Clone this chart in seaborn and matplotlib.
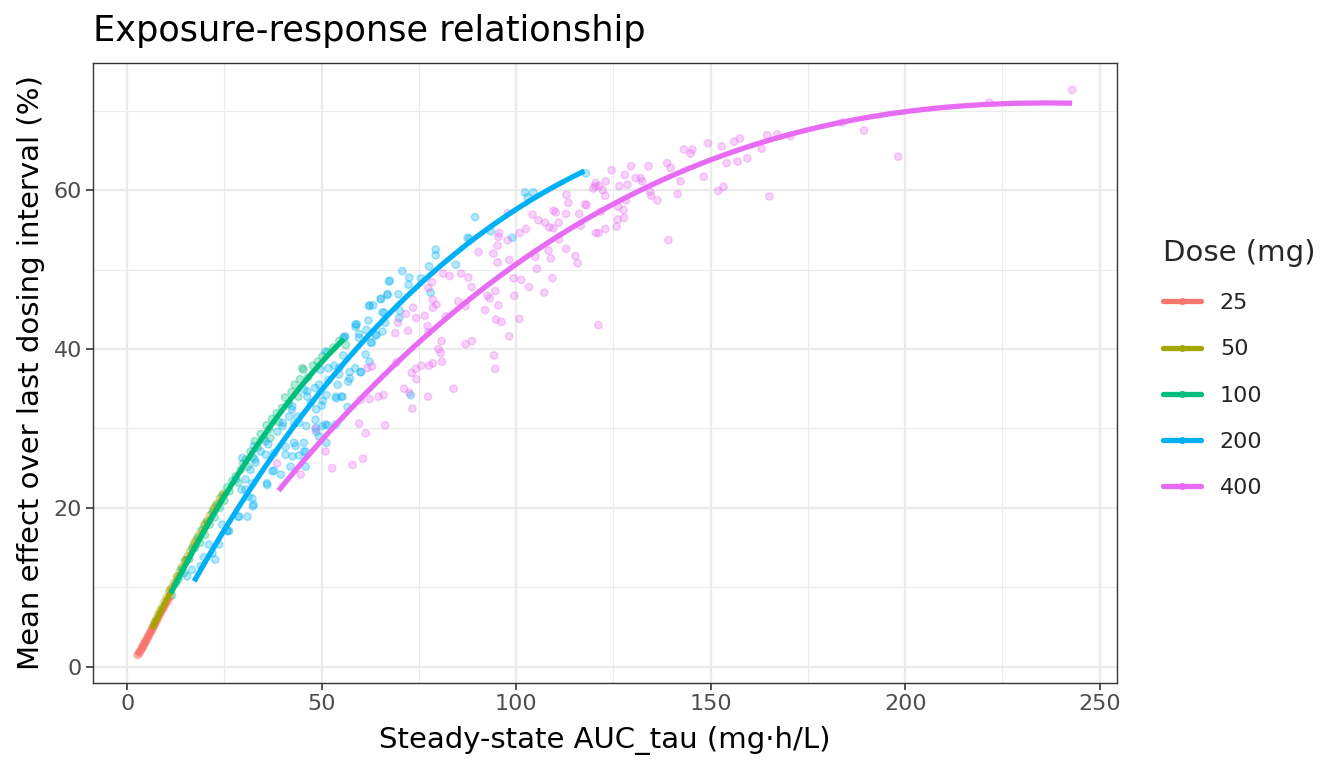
import seaborn as sns
import pandas as pd
import numpy as np
import matplotlib.pyplot as plt
from matplotlib.lines import Line2D
from matplotlib.ticker import MultipleLocator

auc_25 = [2.6, 2.9, 3.1, 3.3, 3.5, 3.7, 3.9, 4.1, 4.3, 4.5, 4.7, 4.9, 5.1, 5.3, 5.5, 5.8, 6.0,
          6.3, 6.6, 6.9, 7.2, 7.6, 8.0, 8.4, 8.9, 9.4, 9.9, 10.5, 11.0, 4.0, 4.6, 5.6, 6.2, 7.0]
eff_25 = [1.5, 1.6, 1.9, 1.8, 2.1, 2.3, 2.4, 2.7, 2.8, 3.0, 3.2, 3.3, 3.6, 3.7, 3.9, 4.2, 4.4,
          4.6, 4.9, 5.2, 5.5, 5.8, 6.2, 6.6, 7.0, 7.4, 7.9, 8.3, 8.8, 2.5, 3.1, 4.0, 4.5, 5.3]

auc_50 = [6.5, 7.0, 7.5, 8.0, 8.5, 9.0, 9.6, 10.2, 10.8, 11.5, 12.1, 12.8, 13.5, 14.1, 14.8,
          15.5, 16.2, 16.9, 17.6, 18.3, 19.0, 19.8, 20.5, 21.3, 22.1, 23.0, 23.8, 24.7, 11.0,
          13.0, 15.0, 17.3, 20.0, 22.5]
eff_50 = [5.0, 5.6, 6.0, 6.6, 7.1, 7.5, 8.2, 8.7, 9.4, 10.0, 10.6, 11.3, 12.0, 12.6, 13.3,
          13.9, 14.6, 15.2, 15.9, 16.5, 17.1, 17.8, 18.4, 19.1, 19.8, 20.5, 21.2, 21.8, 9.7,
          11.4, 13.5, 15.6, 18.0, 20.1]

auc_100 = [11.5, 12.5, 13.2, 14.0, 14.6, 15.3, 16.0, 16.8, 17.5, 18.1, 18.7, 19.4, 20.0, 20.6,
           21.2, 21.9, 22.5, 23.1, 23.8, 24.4, 25.0, 25.7, 26.3, 27.0, 27.9, 28.5, 29.2, 29.8,
           30.5, 31.0, 31.7, 32.3, 32.8, 33.5, 34.3, 35.0, 35.8, 36.5, 37.2, 38.4, 39.0, 39.8,
           40.6, 41.5, 42.3, 43.0, 44.4, 45.0, 45.3, 46.5, 47.8, 49.0, 50.2, 51.5, 53.0, 54.5,
           55.5, 56.2, 44.0, 36.8]
eff_100 = [9.0, 10.5, 11.0, 12.3, 11.8, 13.4, 13.6, 14.9, 15.0, 16.2, 15.6, 17.3, 16.6, 18.2,
           17.9, 19.4, 18.8, 20.3, 20.0, 21.5, 20.9, 22.6, 22.1, 23.4, 24.0, 23.2, 24.8, 25.6,
           26.1, 25.2, 27.1, 26.4, 28.4, 27.6, 29.3, 28.7, 30.4, 29.9, 31.2, 31.9, 30.8, 32.6,
           33.9, 33.1, 34.6, 35.5, 36.2, 37.6, 37.4, 36.4, 37.9, 38.4, 39.1, 39.6, 40.2, 41.0,
           41.4, 40.5, 34.0, 28.8]

auc_200 = [102.3, 104.4, 102.9, 89.4, 87.5, 99.0, 79.3, 79.3, 77.6, 70.7, 72.5, 72.3, 75.5, 67.5,
           78.0, 69.7, 66.9, 65.2, 62.3, 63.2, 70.1, 66.0, 69.9, 66.3, 62.0, 59.0, 58.7, 61.5,
           65.6, 59.6, 63.9, 62.9, 56.0, 50.9, 55.5, 61.3, 62.3, 58.6, 60.1, 57.2, 54.5, 53.2,
           51.7, 49.7, 54.5, 56.8, 54.1, 51.7, 49.3, 48.3, 46.3, 45.4, 50.3, 53.8, 55.1, 56.6,
           50.0, 48.6, 42.3, 43.7, 39.9, 46.0, 48.5, 51.5, 48.6, 42.9, 40.7, 42.9, 44.2, 42.5,
           45.9, 42.0, 51.2, 72.9, 117.9, 67.3, 62.2, 65.2, 66.9, 65.6, 58.7, 64.1, 62.6, 59.6,
           55.9, 60.0, 57.2, 53.6, 55.3, 51.2, 51.0, 49.3, 45.9, 43.3, 39.5, 37.3, 36.0, 47.2,
           46.3, 42.4, 41.6, 40.0, 44.2, 38.6, 36.3, 37.7, 34.3, 35.6, 32.8, 31.7, 32.2, 30.4,
           29.4, 32.3, 30.9, 28.7, 26.2, 24.4, 22.6, 21.0, 18.9, 25.9, 28.6, 35.9, 32.5, 31.2,
           15.4, 16.6, 25.7, 23.6, 21.9, 37.7, 33.0, 35.6, 40.7, 45.4, 45.4, 50.2, 53.6, 48.4,
           32.6, 29.6, 27.9, 30.4, 32.2, 19.7, 88.0, 93.5, 84.5]
eff_200 = [59.7, 59.7, 59.1, 56.6, 54.0, 54.0, 52.5, 51.8, 50.4, 49.8, 49.0, 48.1, 48.9, 48.6,
           47.1, 46.9, 46.9, 46.3, 45.5, 45.5, 44.8, 44.6, 43.9, 43.3, 43.6, 43.1, 42.8, 42.4,
           42.2, 41.9, 41.7, 40.8, 41.5, 39.7, 39.2, 39.3, 38.4, 37.6, 37.1, 37.1, 37.6, 37.9,
           37.6, 37.4, 36.8, 35.9, 35.5, 36.1, 35.5, 35.1, 34.0, 34.9, 33.5, 33.8, 34.0, 32.7,
           32.9, 32.4, 32.4, 31.5, 30.3, 30.3, 30.1, 30.4, 29.6, 30.6, 27.7, 28.2, 26.6, 26.5,
           25.2, 25.2, 28.2, 34.2, 62.1, 48.5, 45.4, 46.3, 46.8, 44.6, 43.1, 41.8, 40.8, 41.4,
           41.6, 37.1, 36.3, 34.0, 34.0, 34.2, 30.5, 29.0, 27.1, 27.8, 24.2, 24.6, 22.9, 33.2,
           34.7, 32.8, 31.5, 30.7, 30.7, 29.6, 28.0, 26.9, 27.1, 28.4, 26.1, 24.8, 23.1, 23.6,
           22.3, 20.2, 18.9, 18.9, 17.1, 17.9, 13.5, 15.4, 12.7, 17.1, 18.9, 23.1, 20.4, 21.4,
           11.4, 12.2, 17.1, 15.4, 14.3, 24.7, 25.7, 26.7, 26.7, 27.1, 28.2, 30.3, 30.5, 31.1,
           27.8, 26.3, 23.6, 22.3, 21.2, 13.8, 53.9, 54.8, 50.6]

auc_400 = [38.5, 44.6, 48.4, 51.0, 52.7, 57.9, 60.6, 59.6, 61.3, 66.3, 60.0, 62.3, 64.6, 65.9,
           61.7, 62.9, 69.2, 71.2, 72.5, 73.3, 77.3, 83.9, 73.1, 74.2, 74.3, 75.6, 77.6, 78.6,
           80.9, 80.0, 80.6, 80.8, 87.0, 88.6, 94.3, 94.6, 98.2, 100.8, 68.9, 72.2, 74.3, 73.5,
           76.5, 77.2, 77.4, 78.6, 79.5, 81.9, 71.6, 69.6, 85.1, 87.0, 92.0, 94.8, 95.4, 96.2,
           94.6, 92.6, 93.2, 88.5, 85.8, 87.7, 81.2, 82.9, 78.3, 77.4, 78.5, 90.3, 94.1, 95.2,
           98.2, 99.3, 99.5, 101.3, 103.3, 107.2, 109.3, 105.3, 104.9, 108.3, 108.9, 112.8,
           115.8, 115.2, 95.2, 97.8, 95.4, 95.6, 97.8, 100.9, 102.5, 104.2, 105.7, 107.4, 109.6,
           110.2, 110.9, 108.5, 109.5, 111.0, 112.9, 113.4, 112.8, 116.2, 116.6, 117.7, 119.8,
           120.5, 120.3, 121.1, 121.2, 118.1, 121.8, 122.9, 125.8, 126.1, 127.6, 127.7, 126.2,
           128.2, 120.4, 121.3, 122.2, 123.0, 122.9, 124.5, 126.5, 127.9, 128.6, 129.5, 130.7,
           132.0, 132.4, 134.0, 134.4, 134.7, 136.3, 139.1, 138.8, 139.7, 141.5, 142.2, 143.1,
           144.8, 145.3, 148.2, 149.3, 151.9, 153.3, 152.8, 154.1, 156.0, 156.9, 157.5, 159.4,
           163.1, 164.5, 165.1, 167.1, 170.5, 183.7, 189.4, 198.2, 221.6, 242.9]
eff_400 = [25.6, 24.2, 29.9, 27.1, 25.0, 25.4, 26.2, 30.6, 29.4, 30.4, 33.6, 33.7, 34.0, 34.2,
           37.6, 37.8, 38.3, 35.0, 34.5, 32.5, 34.0, 35.0, 37.0, 37.5, 36.2, 37.9, 37.9, 38.2,
           38.4, 40.0, 39.5, 41.0, 40.6, 41.0, 39.2, 37.5, 41.6, 43.8, 42.0, 42.3, 43.9, 45.2,
           44.2, 42.9, 42.1, 45.2, 45.6, 44.1, 44.4, 43.3, 46.0, 45.4, 44.9, 43.7, 45.5, 43.4,
           47.3, 46.7, 46.4, 47.8, 49.5, 49.0, 49.5, 49.2, 48.4, 47.7, 46.2, 52.2, 52.0, 50.9,
           51.2, 48.9, 46.7, 48.7, 47.8, 47.1, 48.9, 50.1, 51.6, 52.4, 51.4, 52.6,
           50.8, 51.7, 53.0, 53.7, 54.1, 54.6, 57.1, 54.6, 55.1, 56.9, 56.2, 55.9, 57.4,
           57.2, 55.9, 55.3, 55.2, 53.8, 59.4, 58.4, 57.0, 57.0, 55.5, 58.2, 60.2,
           54.6, 60.5, 43.0, 54.6, 58.1, 57.3, 55.1, 55.4, 56.3, 57.5, 56.5, 57.9,
           58.7, 60.9, 60.5, 60.0, 61.1, 59.3, 62.5, 60.5, 61.9, 60.7, 63.0, 61.5,
           61.5, 61.1, 63.0, 59.8, 59.3, 58.7, 53.7, 63.4, 62.8, 59.5, 61.1, 65.1,
           64.6, 65.1, 61.7, 65.9, 59.9, 60.4, 65.5, 63.4, 66.1, 63.6, 66.5, 64.0,
           65.2, 66.9, 59.2, 67.0, 66.8, 68.5, 67.5, 64.2, 71.0, 72.6]

# smooth curve nodes per dose
fit_auc_25 = [2.6, 5.0, 7.5, 11.0]
fit_eff_25 = [1.5, 3.4, 5.7, 8.8]
fit_auc_50 = [6.4, 11.2, 16.0, 20.5, 25.3]
fit_eff_50 = [4.9, 9.3, 13.9, 18.0, 21.9]
fit_auc_100 = [11.2, 18.0, 25.3, 32.0, 39.0, 45.0, 50.0, 55.7]
fit_eff_100 = [9.3, 15.3, 21.9, 27.0, 31.6, 35.4, 38.4, 41.3]
fit_auc_200 = [17.2, 24.0, 31.3, 39.0, 47.6, 53.5, 59.6, 68.2, 76.7, 85.3, 93.9, 102.5, 111.0, 117.5]
fit_eff_200 = [10.6, 16.6, 22.3, 27.6, 33.2, 37.1, 40.5, 44.7, 48.7, 52.3, 55.6, 58.6, 60.9, 62.2]
fit_auc_400 = [38.9, 56.2, 70.7, 85.3, 102.5, 121.3, 142.8, 169.5, 196.2, 222.9, 242.9]
fit_eff_400 = [22.6, 31.5, 38.7, 44.7, 51.7, 57.7, 63.0, 66.5, 69.3, 70.8, 71.1]

doses = ['25', '50', '100', '200', '400']
colors = ['#F8766D', '#A3A500', '#00BF7D', '#00B0F6', '#E76BF3']
pal = dict(zip(doses, colors))

pts = pd.concat([
    pd.DataFrame({'auc': a, 'eff': e, 'dose': d})
    for a, e, d in [(auc_25, eff_25, '25'), (auc_50, eff_50, '50'), (auc_100, eff_100, '100'),
                    (auc_200, eff_200, '200'), (auc_400, eff_400, '400')]
])
fits = [(fit_auc_25, fit_eff_25, 2), (fit_auc_50, fit_eff_50, 2), (fit_auc_100, fit_eff_100, 2),
        (fit_auc_200, fit_eff_200, 3), (fit_auc_400, fit_eff_400, 3)]

sns.set_theme(style='whitegrid')
plt.rcParams['font.family'] = ['DejaVu Sans']

fig, ax = plt.subplots(figsize=(13.44, 7.68), dpi=100)
fig.subplots_adjust(left=0.0692, right=0.831, top=0.918, bottom=0.111)

sns.scatterplot(data=pts, x='auc', y='eff', hue='dose', hue_order=doses, palette=pal,
                s=28, alpha=0.3, linewidth=1.1, edgecolor='face', legend=False, ax=ax, zorder=3)
# smooth lines, one per dose
for (fx, fy, order), c in zip(fits, colors):
    sns.regplot(x=np.array(fx), y=np.array(fy), order=order, ci=None, scatter=False,
                truncate=True, color=c, line_kws={'linewidth': 3.8, 'zorder': 4,
                                                  'solid_capstyle': 'butt'}, ax=ax)

ax.set_xlim(-8.8, 254.4)
ax.set_ylim(-2.0, 76.0)
ax.xaxis.set_major_locator(MultipleLocator(50))
ax.xaxis.set_minor_locator(MultipleLocator(25))
ax.yaxis.set_major_locator(MultipleLocator(20))
ax.yaxis.set_minor_locator(MultipleLocator(10))
ax.grid(which='major', color='#EBEBEB', linewidth=1.6)
ax.grid(which='minor', color='#EBEBEB', linewidth=0.8)
ax.set_axisbelow(True)
for sp in ax.spines.values():
    sp.set_color('#333333')
    sp.set_linewidth(1.0)
ax.tick_params(which='major', length=5, width=1.2, color='#333333',
               labelsize=16, labelcolor='#4D4D4D', bottom=True, left=True, pad=3)
ax.tick_params(which='minor', length=0)

ax.set_xlabel('Steady-state AUC_tau (mg·h/L)', fontsize=21, color='black', labelpad=9)
ax.set_ylabel('Mean effect over last dosing interval (%)', fontsize=21, color='black', labelpad=6)
ax.set_title('Exposure-response relationship', loc='left', fontsize=25.3, color='black', pad=16)

handles = [Line2D([], [], color=c, linewidth=3.8, marker='o', markersize=4) for c in colors]
leg = fig.legend(handles, doses, title='Dose (mg)', loc='upper left',
                 bbox_to_anchor=(0.8506, 0.715), frameon=False, fontsize=16,
                 title_fontsize=21, handlelength=1.7, labelspacing=1.18, handletextpad=0.85)
leg._legend_box.align = 'left'

plt.savefig('out.png', dpi=100)
